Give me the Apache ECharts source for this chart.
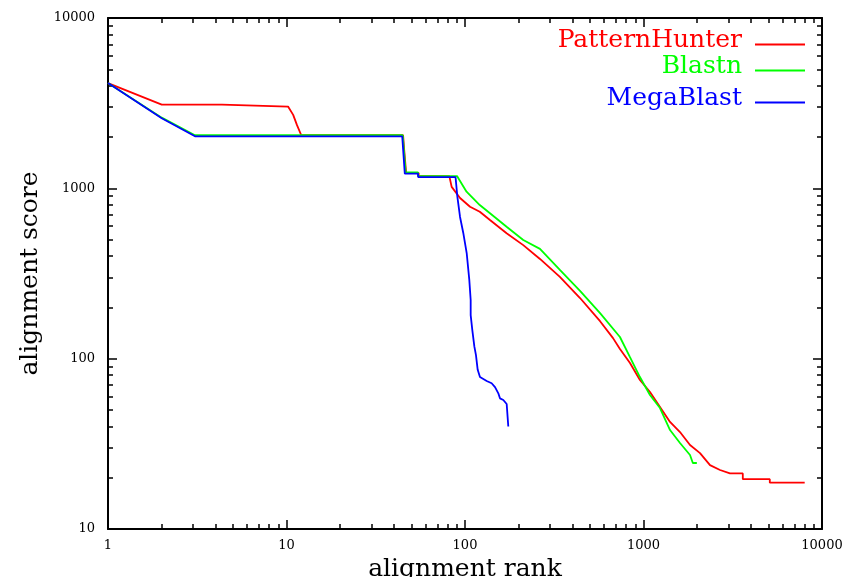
<!DOCTYPE html>
<html>
<head>
<meta charset="utf-8">
<script src="https://cdn.jsdelivr.net/npm/echarts@6/dist/echarts.min.js"></script>
<style>
html,body{margin:0;padding:0;background:#fff;}
#c{width:853px;height:577px;}
</style>
</head>
<body>
<div id="c"></div>
<script>
// ---- data ----
const seriesNames = ['PatternHunter', 'Blastn', 'MegaBlast'];
const seriesColors = ['#ff0000', '#00ff00', '#0000ff'];

const phRank  = [1, 2, 4.35, 4.35, 10.2, 10.9, 11.45, 12.1, 45, 45.6, 46.8, 55, 55, 81.7, 84.2, 93.8, 106.7, 121, 138, 171, 212, 263, 340, 441, 571, 675, 738, 840, 955, 1087, 1237, 1408, 1601, 1822, 2073, 2358, 2684, 3050, 3600, 3600, 5100, 5100, 8000];
const phScore = [4150, 3100, 3100, 3020, 3020, 2700, 2350, 2050, 2050, 1700, 1230, 1230, 1180, 1180, 1020, 877, 780, 729, 652, 545, 464, 385, 302, 227, 166, 132, 114, 94.3, 75, 63.7, 52, 42.5, 37.1, 31.1, 27.9, 23.7, 22.2, 21.2, 21.2, 19.6, 19.6, 18.7, 18.7];

const blRank  = [1, 2, 3.07, 44.8, 46.5, 54.6, 54.6, 90.2, 102, 121, 138, 171, 212, 263, 340, 441, 571, 738, 840, 955, 1087, 1237, 1408, 1601, 1822, 1890, 1990];
const blScore = [4150, 2600, 2050, 2050, 1240, 1240, 1180, 1180, 955, 798, 714, 595, 497, 441, 332, 250, 185, 134, 102, 78, 61.2, 51.3, 38.1, 32, 27.2, 24.4, 24.4];

const mbRank  = [1, 2, 3.07, 44.5, 46, 54.6, 54.6, 88.5, 90.6, 93.8, 97.8, 102.2, 105.7, 107.6, 107.6, 109.9, 112.8, 115.2, 117.8, 121.3, 132.3, 141, 147.3, 153.7, 157, 163.9, 171.2, 174.8, 174.8];
const mbScore = [4150, 2580, 2020, 2020, 1220, 1220, 1165, 1165, 893, 679, 547, 417, 290, 221, 180, 147, 118, 105, 86, 78, 74, 71.7, 68, 62.6, 58.5, 57.2, 54.2, 54.2, 40];

const xMajor = [1, 10, 100, 1000, 10000];
const xMinor = [2,3,4,5,6,7,8,9,20,30,40,50,60,70,80,90,200,300,400,500,600,700,800,900,2000,3000,4000,5000,6000,7000,8000,9000];
const yMajor = [10, 100, 1000, 10000];
const yMinor = [20,30,40,50,60,70,80,90,200,300,400,500,600,700,800,900,2000,3000,4000,5000,6000,7000,8000,9000];

const xTitle = 'alignment rank';
const yTitle = 'alignment score';

// ---- chart ----
const FONT = 'DejaVu Serif';
const zip = (a, b) => a.map((v, i) => [v, b[i]]);

function mkAxis(kind, pos, ticks, len, opts) {
  const isX = kind === 'x';
  const a = {
    type: 'log', logBase: 10,
    min: isX ? 1 : 10, max: 10000,
    position: pos,
    axisLine: { show: !!opts.line, onZero: false, lineStyle: { color: '#000', width: 2 } },
    axisTick: { show: true, inside: true, length: len, customValues: ticks, lineStyle: { color: '#000', width: 1.5 } },
    axisLabel: { show: false },
    splitLine: { show: false },
    minorTick: { show: false },
    minorSplitLine: { show: false }
  };
  if (opts.labels) {
    a.axisLabel = {
      show: true, customValues: ticks, color: '#000',
      fontFamily: FONT, fontSize: 13,
      margin: isX ? 10 : 13,
      formatter: v => String(v)
    };
  }
  if (opts.name) {
    a.name = opts.name;
    a.nameLocation = 'middle';
    a.nameGap = isX ? 23 : 57;
    a.nameTextStyle = { color: '#000', fontFamily: FONT, fontSize: 25 };
  }
  return a;
}

const legendPath = 'path://M0,0M8,8L58,8L58,10L8,10Z';
const legendTops = [28, 54, 86];

const chart = echarts.init(document.getElementById('c'), null, { renderer: 'canvas' });
chart.setOption({
  animation: false,
  backgroundColor: '#fff',
  grid: { left: 108, right: 31, top: 18, bottom: 48, containLabel: false, outerBoundsMode: 'none' },
  xAxis: [
    mkAxis('x', 'bottom', xMajor, 9, { line: true, labels: true, name: xTitle }),
    mkAxis('x', 'bottom', xMinor, 5, {}),
    mkAxis('x', 'top', xMajor, 9, { line: true }),
    mkAxis('x', 'top', xMinor, 5, {})
  ],
  yAxis: [
    mkAxis('y', 'left', yMajor, 9, { line: true, labels: true, name: yTitle }),
    mkAxis('y', 'left', yMinor, 5, {}),
    mkAxis('y', 'right', yMajor, 9, { line: true }),
    mkAxis('y', 'right', yMinor, 5, {})
  ],
  legend: seriesNames.map((n, i) => ({
    data: [{ name: n, textStyle: { color: seriesColors[i] } }],
    right: 48, top: legendTops[i],
    orient: 'vertical', align: 'right', padding: 0,
    icon: legendPath, itemWidth: 58, itemHeight: 10,
    itemStyle: { borderWidth: 0 },
    textStyle: { fontFamily: FONT, fontSize: 25 },
    selectedMode: false
  })),
  series: [
    { name: seriesNames[0], data: zip(phRank, phScore) },
    { name: seriesNames[1], data: zip(blRank, blScore) },
    { name: seriesNames[2], data: zip(mbRank, mbScore) }
  ].map((s, i) => Object.assign(s, {
    type: 'line', xAxisIndex: 0, yAxisIndex: 0,
    showSymbol: false, symbol: 'none',
    color: seriesColors[i],
    itemStyle: { color: seriesColors[i] },
    lineStyle: { color: seriesColors[i], width: 1.8 },
    z: 2 + i
  }))
});
</script>
</body>
</html>
